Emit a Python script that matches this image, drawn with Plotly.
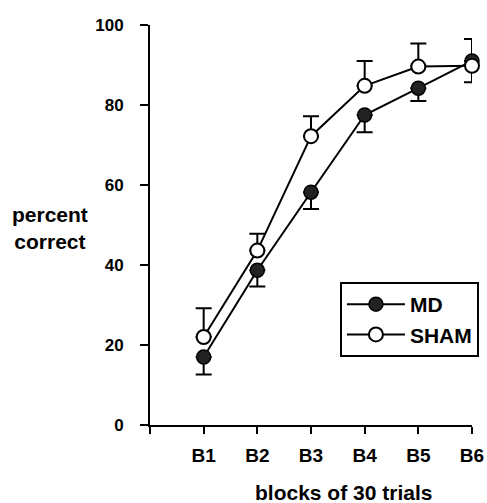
import plotly.graph_objects as go

categories = ["B1", "B2", "B3", "B4", "B5", "B6"]
x_pos = [1, 2, 3, 4, 5, 6]
md_values = [17, 38.7, 58.2, 77.5, 84.2, 91]
md_err_up = [0, 0, 0, 0, 0, 5.5]
md_err_down = [4.4, 4.1, 4.2, 4.3, 3.2, 0]
sham_values = [22, 43.6, 72.2, 84.8, 89.6, 89.8]
sham_err_up = [7.2, 4.2, 5.0, 6.2, 5.8, 0]
sham_err_down = [0, 0, 0, 0, 0, 4.1]

FONT = "Liberation Sans, Arial, sans-serif"

fig = go.Figure()
fig.add_trace(go.Scatter(
    x=x_pos, y=md_values, name="MD", mode="lines+markers",
    line=dict(color="black", width=2),
    marker=dict(symbol="circle", size=14, color="#222", line=dict(color="black", width=1.5)),
    error_y=dict(type="data", symmetric=False, array=md_err_up, arrayminus=md_err_down,
                 color="black", thickness=2, width=8),
    cliponaxis=False,
))
fig.add_trace(go.Scatter(
    x=x_pos, y=sham_values, name="SHAM", mode="lines+markers",
    line=dict(color="black", width=2),
    marker=dict(symbol="circle", size=14, color="white", line=dict(color="black", width=2)),
    error_y=dict(type="data", symmetric=False, array=sham_err_up, arrayminus=sham_err_down,
                 color="black", thickness=2, width=8),
    cliponaxis=False,
))

fig.update_layout(
    width=487, height=503,
    margin=dict(l=150, r=15, t=25, b=78, autoexpand=False),
    paper_bgcolor="white", plot_bgcolor="white",
    font=dict(family=FONT, size=15, color="black"),
    showlegend=True,
    legend=dict(x=0.698, xref="container", xanchor="left",
                y=0.4394, yref="container", yanchor="top",
                bordercolor="black", borderwidth=2, bgcolor="white",
                font=dict(family=FONT, size=21, color="black", weight="bold"),
                itemwidth=58, tracegroupgap=2),
    xaxis=dict(range=[0, 6], tickvals=[0] + x_pos, ticktext=[""] + categories,
               showline=True, linecolor="black", linewidth=2,
               ticks="outside", ticklen=7, tickwidth=2, tickcolor="black",
               ticklabelstandoff=5,
               showgrid=False, zeroline=False,
               tickfont=dict(family=FONT, size=19, color="black", weight="bold")),
    yaxis=dict(range=[0, 100], tickvals=[0, 20, 40, 60, 80, 100],
               showline=True, linecolor="black", linewidth=2,
               ticks="outside", ticklen=8, tickwidth=2, tickcolor="black",
               ticklabelstandoff=13,
               showgrid=False, zeroline=False,
               tickfont=dict(family=FONT, size=17, color="black", weight="bold")),
    annotations=[
        dict(text="percent<br>correct", x=-0.31, xref="paper", xanchor="center",
             y=0.4925, yref="paper", yanchor="middle", showarrow=False,
             font=dict(family=FONT, size=21, color="black", weight="bold")),
        dict(text="blocks of 30 trials", x=0.6, xref="paper", xanchor="center",
             y=-0.1675, yref="paper", yanchor="middle", showarrow=False,
             font=dict(family=FONT, size=21, color="black", weight="bold")),
    ],
)

fig.write_html("out.html")
